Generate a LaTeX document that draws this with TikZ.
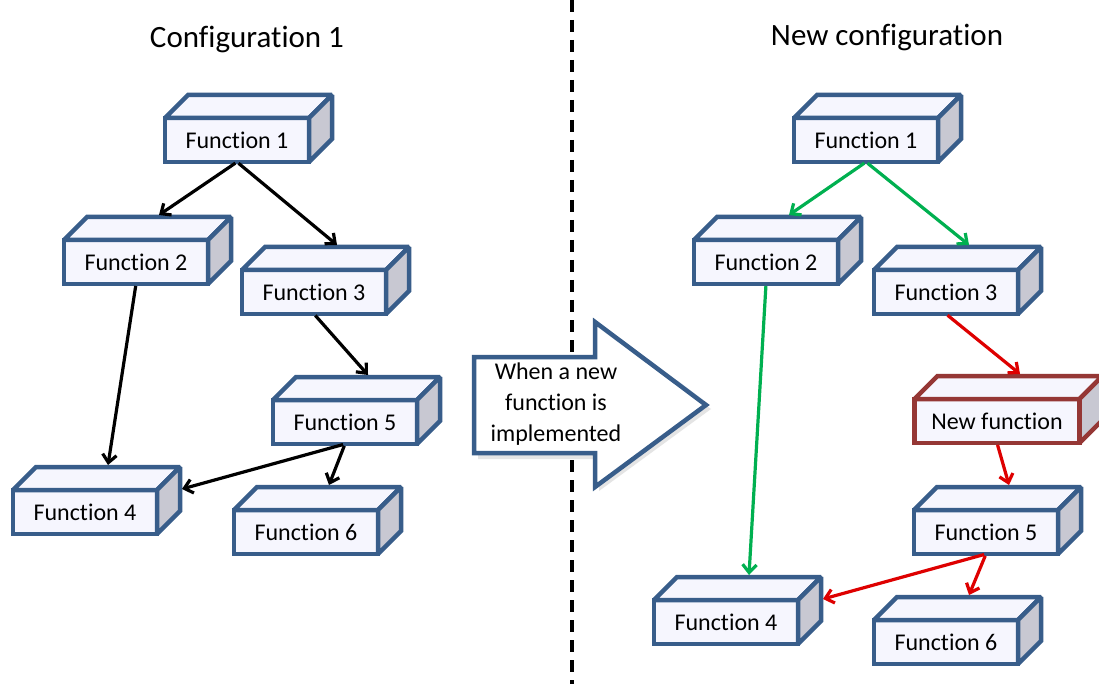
\documentclass[tikz,border=0pt]{standalone}
\usepackage{fontspec}
\setmainfont{Carlito}[Ligatures=NoCommon]
\usetikzlibrary{arrows.meta,calc}

\definecolor{boxblue}{RGB}{56,93,138}
\definecolor{boxred}{RGB}{149,55,53}
\definecolor{facefill}{RGB}{246,246,254}
\definecolor{sidefill}{RGB}{200,200,210}
\definecolor{linkgreen}{RGB}{0,176,80}
\definecolor{linkred}{RGB}{222,0,0}

\tikzset{
  funcface/.style={rectangle, fill=facefill, line width=4.5pt, outer sep=0pt,
    minimum height=44pt, inner sep=0pt, font=\fontsize{24}{28}\selectfont},
  facestroke/.style={line width=4.5pt, line join=miter, miter limit=1.6},
  link/.style={line width=3.2pt, -{Straight Barb[length=8pt,width=14pt]},
    shorten <=2pt},
  title/.style={font=\fontsize{31}{36}\selectfont},
}

% a 3-D function box: name, x, y (front-face centre), width, outline colour, label
\newcommand\funcbox[6]{%
  \node[funcface, draw=#5, minimum width=#4] (#1) at (#2,#3) {#6};
  \draw[draw=#5, fill=facefill, facestroke]
    (#1.north west) -- ++(23,-23) -- ($(#1.north east)+(23,-23)$)
    -- (#1.north east) -- cycle;
  \draw[draw=#5, fill=sidefill, facestroke]
    (#1.north east) -- ++(23,-23) -- ($(#1.south east)+(23,-23)$)
    -- (#1.south east) -- cycle;
  \coordinate (#1-top) at ($(#1.north)+(23,-25)$);
  \coordinate (#1-side) at ($(#1.east)+(25,-23)$);
}

\begin{document}
\begin{tikzpicture}[x=1pt, y=-1pt]
\useasboundingbox (0,0) rectangle (1099,684);
\fill[white] (0,0) rectangle (1099,684);

% dividing line
\coordinate (divtop) at (572,0);
\coordinate (divbot) at (572,684);
\draw[line width=4.5pt, dash pattern=on 12pt off 8pt] (divtop) -- (divbot);

% titles
\node[title] (t1) at (247,40) {Configuration 1};
\node[title] (t2) at (887,38) {New configuration};

% transition arrow
\fill[black!30, opacity=0.35] (478,361) -- (599,361) -- (599,326) -- (711,409)
  -- (599,491) -- (599,459) -- (478,459) -- cycle;
\draw[boxblue, fill=white, line width=4.5pt, line join=miter]
  (474,357) -- (595,357) -- (595,322) -- (706,405) -- (595,487) -- (595,453)
  -- (474,453) -- cycle;
\node[align=center, font=\fontsize{24}{31}\selectfont] (msg) at (556,404)
  {When a new\\function is\\implemented};

% first configuration
\funcbox{f1}{237}{140}{144pt}{boxblue}{Function 1}
\funcbox{f2}{136}{262}{144pt}{boxblue}{Function 2}
\funcbox{f3}{314}{292}{144pt}{boxblue}{Function 3}
\funcbox{f5}{345}{422}{144pt}{boxblue}{Function 5}
\funcbox{f4}{85}{512}{144pt}{boxblue}{Function 4}
\funcbox{f6}{306}{532}{144pt}{boxblue}{Function 6}

\draw[link] (f1.south) -- (f2-top);
\draw[link] (f1.south) -- (f3-top);
\draw[link] (f2.south) -- (f4-top);
\draw[link] (f3.south) -- (f5-top);
\draw[link] (f5.south) -- (f4-side);
\draw[link] (f5.south) -- (f6-top);

% new configuration
\funcbox{g1}{866}{140}{144pt}{boxblue}{Function 1}
\funcbox{g2}{766}{262}{144pt}{boxblue}{Function 2}
\funcbox{g3}{946}{292}{144pt}{boxblue}{Function 3}
\funcbox{gn}{997}{421}{165pt}{boxred}{New function}
\funcbox{g5}{986}{532}{144pt}{boxblue}{Function 5}
\funcbox{g4}{726}{622}{144pt}{boxblue}{Function 4}
\funcbox{g6}{946}{642}{144pt}{boxblue}{Function 6}

\draw[link, linkgreen] (g1.south) -- (g2-top);
\draw[link, linkgreen] (g1.south) -- (g3-top);
\draw[link, linkgreen] (g2.south) -- (g4-top);
\draw[link, linkred] (g3.south) -- (gn-top);
\draw[link, linkred] (gn.south) -- (g5-top);
\draw[link, linkred] (g5.south) -- (g4-side);
\draw[link, linkred] (g5.south) -- (g6-top);
\end{tikzpicture}
\end{document}
